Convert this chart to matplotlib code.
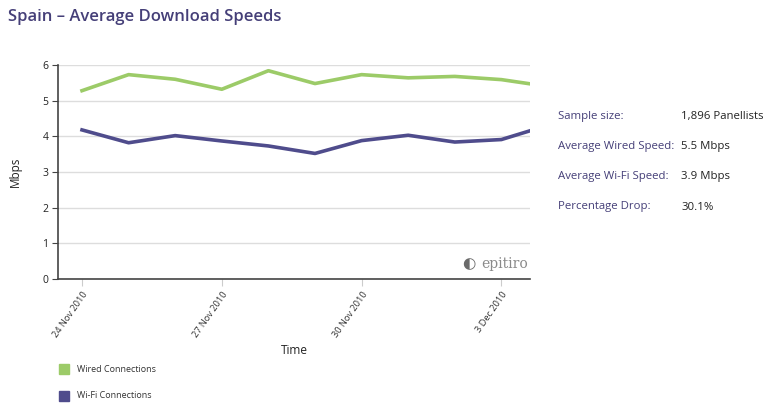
import matplotlib
matplotlib.use("Agg")
import matplotlib.pyplot as plt
import matplotlib.dates as mdates
import pandas as pd
import numpy as np

dates = pd.to_datetime([
    "2010-11-24 00:00", "2010-11-25 00:00", "2010-11-26 00:00", "2010-11-27 00:00",
    "2010-11-28 00:00", "2010-11-29 00:00", "2010-11-30 00:00", "2010-12-01 00:00",
    "2010-12-02 00:00", "2010-12-03 00:00", "2010-12-03 15:00",
], format="%Y-%m-%d %H:%M")
wired = [5.28, 5.73, 5.60, 5.32, 5.84, 5.48, 5.73, 5.64, 5.68, 5.59, 5.47]
wifi = [4.18, 3.82, 4.02, 3.87, 3.73, 3.52, 3.88, 4.03, 3.84, 3.91, 4.16]
tick_dates = pd.to_datetime(["2010-11-24", "2010-11-27", "2010-11-30", "2010-12-03"])
tick_labels = ["24 Nov 2010", "27 Nov 2010", "30 Nov 2010", "3 Dec 2010"]
series_names = ["Wired Connections", "Wi-Fi Connections"]
stat_labels = ["Sample size:", "Average Wired Speed:", "Average Wi-Fi Speed:", "Percentage Drop:"]
stat_values = ["1,896 Panellists", "5.5 Mbps", "3.9 Mbps", "30.1%"]

GREEN = "#9ccb68"
PURPLE = "#4f4c8c"
TXT = "#453f78"

plt.rcParams['font.family'] = ['Open Sans', 'DejaVu Sans']

W, H = 775, 412
fig = plt.figure(figsize=(W / 100, H / 100), dpi=100)
fig.patch.set_facecolor("white")

def fx(px):
    return px / W

def fy(py):
    return 1 - py / H

ax_l, ax_r, ax_t, ax_b = 58, 530, 65, 279
ax = fig.add_axes([fx(ax_l), fy(ax_b), fx(ax_r - ax_l), (ax_b - ax_t) / H])

xnum = mdates.date2num(dates)
ax.plot(xnum, wired, color=GREEN, lw=2.6, solid_joinstyle="round", zorder=3)
ax.plot(xnum, wifi, color=PURPLE, lw=2.6, solid_joinstyle="round", zorder=3)

x0 = xnum[0]
day_px = 46.6
xmin = x0 - (82 - ax_l) / day_px
xmax = x0 + (ax_r - 82) / day_px
ax.set_xlim(xmin, xmax)
ax.set_ylim(0, 6)

ax.set_yticks(range(0, 7))
ax.yaxis.grid(True, color="#dddddd", lw=1)
ax.set_axisbelow(True)
ax.set_xticks(mdates.date2num(tick_dates))
ax.set_xticklabels(tick_labels, rotation=55, ha="right", rotation_mode="anchor",
                   fontsize=6.7, color="#333333")
ax.tick_params(axis="x", length=5, color="#cccccc", pad=3)
ax.tick_params(axis="y", length=4, color="#444444", labelsize=7.5, labelcolor="#222222", pad=3)

for s in ["top", "right"]:
    ax.spines[s].set_visible(False)
ax.spines["left"].set_color("#444444")
ax.spines["bottom"].set_color("#444444")
ax.spines["left"].set_linewidth(1.2)
ax.spines["bottom"].set_linewidth(1.2)

fig.text(fx(15), fy(172), "Mbps", fontsize=8.5, color="#222222", ha="center", va="center",
         rotation=90)
fig.text(fx(294), fy(350), "Time", fontsize=8.5, color="#222222", ha="center", va="center")

# watermark
ax.text(0.995, 0.07, "epitiro", transform=ax.transAxes, ha="right", va="center",
        fontsize=10, color="#8a8a8a", family="DejaVu Serif")
ax.text(0.87, 0.07, "\u25D0", transform=ax.transAxes, ha="center", va="center",
        fontsize=11, color="#6a6a6a", family="DejaVu Sans")

# Title
fig.text(fx(8), fy(17), "Spain \u2013 Average Download Speeds", fontsize=12,
         color=TXT, ha="left", va="center", fontweight="semibold")

# Legend
for i, (name, col) in enumerate(zip(series_names, [GREEN, PURPLE])):
    yc = 369 + i * 27
    fig.patches.append(plt.Rectangle((fx(59), fy(yc + 5)), 10 / W, 10 / H,
                                     transform=fig.transFigure, color=col))
    fig.text(fx(77), fy(yc), name, fontsize=6.5, color="#333333", ha="left", va="center")

# Stats panel
for i, (lab, val) in enumerate(zip(stat_labels, stat_values)):
    yy = 117 + i * 30
    fig.text(fx(558), fy(yy), lab, fontsize=8.2, color=TXT, ha="left", va="center")
    fig.text(fx(681), fy(yy), val, fontsize=8.2, color="#222222", ha="left", va="center")

fig.savefig("out.png", dpi=100, facecolor="white")
